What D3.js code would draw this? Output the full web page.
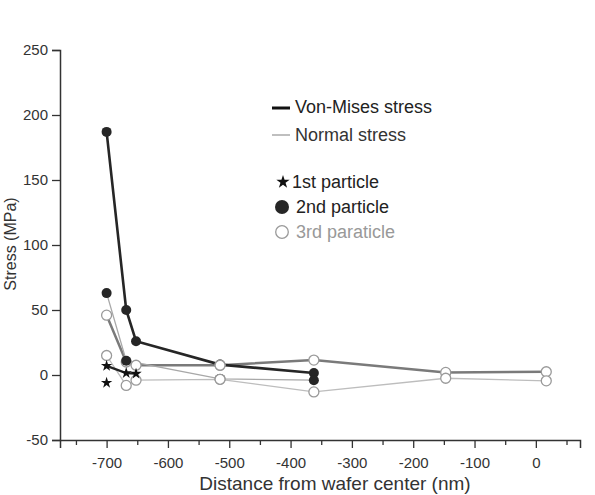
<!DOCTYPE html>
<html><head><meta charset="utf-8">
<script src="https://cdn.jsdelivr.net/npm/d3@7"></script>
<style>body{margin:0;background:#fff}svg{display:block;font-family:"Liberation Sans",Arial,sans-serif}</style>
</head><body><svg id="c" width="595" height="495"></svg>
<script>
// ---- data ----
const xTicks = [-700,-600,-500,-400,-300,-200,-100,0];
const xMinor = [-750,-650,-550,-450,-350,-250,-150,-50,50];
const yTicks = [-50,0,50,100,150,200,250];

const vm1X = [-700,-668,-652];           const vm1Y = [7,1.5,1];
const n1X  = [-700];                     const n1Y  = [-6];
const vm2X = [-700,-668,-652,-515,-362]; const vm2Y = [187,50,26,8,1.5];
const n2X  = [-700,-668,-515,-362];      const n2Y  = [63,11,-3,-4];
const vm3X = [-700,-668,-652,-515,-362,-147,17]; const vm3Y = [46,10,7.5,7.5,11.5,2,2.5];
const n3X  = [-700,-668,-652,-515,-362,-147,17]; const n3Y  = [15,-8,-4,-3.3,-13,-2.5,-4.5];

const legendLines = ["Von-Mises stress","Normal stress"];
const legendMarks = ["1st particle","2nd particle","3rd paraticle"];
const xTitle = "Distance from wafer center (nm)";
const yTitle = "Stress (MPa)";

// ---- chart ----
const svg = d3.select("#c");
const x = d3.scaleLinear().domain([-776,72]).range([60,580]);
const y = d3.scaleLinear().domain([-50,250]).range([440,50]);
const zip = (a,b)=>a.map((v,i)=>[v,b[i]]);
const line = d3.line().x(d=>x(d[0])).y(d=>y(d[1]));
const fmt = d=>String(d);

// axes
svg.append("g").attr("transform","translate(60,0)")
  .call(d3.axisLeft(y).tickValues(yTicks).tickSize(8).tickPadding(4).tickFormat(fmt));
svg.append("g").attr("transform","translate(0,440)")
  .call(d3.axisBottom(x).tickValues(xTicks).tickSize(8).tickPadding(9).tickFormat(fmt));
svg.append("g").attr("transform","translate(0,440)")
  .call(d3.axisBottom(x).tickValues(xMinor).tickSize(5).tickFormat(""))
  .select(".domain").remove();
svg.selectAll(".domain").attr("stroke","#333").attr("stroke-width",1.5);
svg.selectAll(".tick line").attr("stroke","#333").attr("stroke-width",1.3);
svg.selectAll(".tick text").attr("fill","#333").attr("font-size",15).attr("font-family","Liberation Sans, Arial, sans-serif");

svg.append("text").attr("x",335).attr("y",490).attr("text-anchor","middle")
  .attr("font-size",19).attr("fill","#333").text(xTitle);
svg.append("text").attr("transform","translate(16,244) rotate(-90)").attr("text-anchor","middle")
  .attr("font-size",16).attr("fill","#333").text(yTitle);

// lines
const lines = [
  {d:zip(n3X,n3Y), c:"#bdbdbd", w:1.3},
  {d:zip(vm3X,vm3Y), c:"#7a7a7a", w:2.5},
  {d:zip(n2X,n2Y), c:"#a8a8a8", w:1.3},
  {d:zip(vm2X,vm2Y), c:"#262626", w:2.6},
  {d:zip(n1X,n1Y), c:"#a8a8a8", w:1.3},
  {d:zip(vm1X,vm1Y), c:"#222", w:2.2}
];
lines.forEach(l=>svg.append("path").attr("d",line(l.d)).attr("fill","none")
  .attr("stroke",l.c).attr("stroke-width",l.w));

// markers
const open = zip(vm3X,vm3Y).concat(zip(n3X,n3Y));
const drawOpen = data => svg.append("g").selectAll("circle").data(data).join("circle")
  .attr("cx",d=>x(d[0])).attr("cy",d=>y(d[1])).attr("r",5)
  .attr("fill","#fff").attr("stroke","#9a9a9a").attr("stroke-width",1.3);
drawOpen(open);
const filled = zip(vm2X,vm2Y).concat(zip(n2X,n2Y));
svg.append("g").selectAll("circle").data(filled).join("circle")
  .attr("cx",d=>x(d[0])).attr("cy",d=>y(d[1])).attr("r",5)
  .attr("fill","#262626");
drawOpen(open.filter(d=>d[0] > -600 && d[0] < -400));
const stars = zip(vm1X,vm1Y).concat(zip(n1X,n1Y));
const star = d3.symbol().type(d3.symbolStar).size(40);
svg.append("g").selectAll("path").data(stars).join("path")
  .attr("transform",d=>`translate(${x(d[0])},${y(d[1])})`).attr("d",star).attr("fill","#111");

// legend
const lg = svg.append("g").attr("font-size",18);
lg.append("line").attr("x1",272).attr("x2",290).attr("y1",108).attr("y2",108).attr("stroke","#111").attr("stroke-width",3);
lg.append("text").attr("x",295).attr("y",113).attr("fill","#222").text(legendLines[0]);
lg.append("line").attr("x1",272).attr("x2",290).attr("y1",135).attr("y2",135).attr("stroke","#aaa").attr("stroke-width",1.5);
lg.append("text").attr("x",295).attr("y",141).attr("fill","#333").text(legendLines[1]);
lg.append("path").attr("transform","translate(283,182)").attr("d",d3.symbol().type(d3.symbolStar).size(55)).attr("fill","#111");
lg.append("text").attr("x",292).attr("y",188).attr("fill","#222").text(legendMarks[0]);
lg.append("circle").attr("cx",282).attr("cy",207).attr("r",7).attr("fill","#262626");
lg.append("text").attr("x",296).attr("y",213).attr("fill","#222").text(legendMarks[1]);
lg.append("circle").attr("cx",282).attr("cy",232).attr("r",6.3).attr("fill","#fff").attr("stroke","#9a9a9a").attr("stroke-width",1.3);
lg.append("text").attr("x",296).attr("y",238).attr("fill","#999").text(legendMarks[2]);
</script></body></html>
